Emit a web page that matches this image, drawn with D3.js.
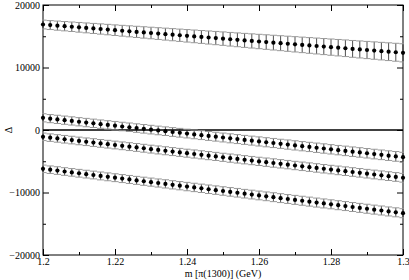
<!DOCTYPE html>
<html>
<head>
<meta charset="utf-8">
<script src="https://cdn.jsdelivr.net/npm/d3@7"></script>
<style>
  body { margin: 0; background: #fff; }
  svg text { font-family: "Liberation Serif", "DejaVu Serif", serif; font-size: 10px; fill: #000; }
  .axis path { display: none; }
  .axis line { stroke: #000; }
</style>
</head>
<body>
<div id="chart"></div>
<script>
// x values, m [pi(1300)] in GeV
var mass = [1.200,1.202,1.204,1.206,1.208,1.210,1.212,1.214,1.216,1.218,
  1.220,1.222,1.224,1.226,1.228,1.230,1.232,1.234,1.236,1.238,
  1.240,1.242,1.244,1.246,1.248,1.250,1.252,1.254,1.256,1.258,
  1.260,1.262,1.264,1.266,1.268,1.270,1.272,1.274,1.276,1.278,
  1.280,1.282,1.284,1.286,1.288,1.290,1.292,1.294,1.296,1.298,1.300];

var delta1 = [16880,16790,16700,16610,16520,16430,16340,16250,16160,16070,
  15970,15880,15790,15700,15610,15520,15430,15340,15250,15160,
  15070,14980,14890,14800,14710,14620,14520,14430,14340,14250,
  14160,14070,13980,13890,13800,13710,13620,13530,13440,13350,
  13260,13170,13080,12980,12890,12800,12710,12620,12530,12440,12350];
var err1 = [700,715,730,745,760,775,790,805,820,835,
  850,865,880,895,910,925,940,955,970,985,
  1000,1015,1030,1045,1060,1075,1090,1105,1120,1135,
  1150,1165,1180,1195,1210,1225,1240,1255,1270,1285,
  1300,1315,1330,1345,1360,1375,1390,1405,1420,1435,1450];

var delta2 = [1950,1820,1700,1570,1450,1320,1190,1070,940,820,
  690,560,440,310,190,60,-70,-190,-320,-440,
  -570,-700,-820,-950,-1070,-1200,-1330,-1450,-1580,-1700,
  -1830,-1960,-2080,-2210,-2330,-2460,-2590,-2710,-2840,-2960,
  -3090,-3220,-3340,-3470,-3590,-3720,-3850,-3970,-4100,-4220,-4350];
var err2 = [650,650,660,660,660,660,670,670,670,670,
  680,680,680,680,690,690,690,690,700,700,
  700,700,710,710,710,710,720,720,720,720,
  730,730,730,730,740,740,740,740,750,750,
  750,750,760,760,760,760,770,770,770,780,780];

var delta3 = [-1090,-1220,-1350,-1480,-1610,-1750,-1880,-2010,-2140,-2270,
  -2400,-2530,-2660,-2790,-2920,-3060,-3190,-3320,-3450,-3580,
  -3710,-3840,-3970,-4100,-4230,-4370,-4500,-4630,-4760,-4890,
  -5020,-5150,-5280,-5410,-5540,-5680,-5810,-5940,-6070,-6200,
  -6330,-6460,-6590,-6720,-6850,-6990,-7120,-7250,-7380,-7510,-7640];
var err3 = [600,600,600,610,610,610,610,620,620,620,
  620,620,630,630,630,630,640,640,640,640,
  640,650,650,650,650,650,660,660,660,660,
  660,670,670,670,670,670,680,680,680,680,
  680,690,690,690,690,690,700,700,700,700,700];

var delta4 = [-6210,-6350,-6490,-6640,-6780,-6920,-7060,-7200,-7350,-7490,
  -7630,-7770,-7910,-8060,-8200,-8340,-8480,-8620,-8770,-8910,
  -9050,-9190,-9330,-9480,-9620,-9760,-9900,-10040,-10190,-10330,
  -10470,-10610,-10750,-10900,-11040,-11180,-11320,-11460,-11610,-11750,
  -11890,-12030,-12170,-12320,-12460,-12600,-12740,-12880,-13030,-13170,-13310];
var err4 = [600,600,610,610,610,620,620,620,630,630,
  630,640,640,640,650,650,650,660,660,660,
  670,670,670,680,680,680,690,690,690,700,
  700,700,710,710,710,720,720,720,720,720,
  720,720,720,720,720,720,720,720,720,720,720];

var xMajor = [1.2, 1.22, 1.24, 1.26, 1.28, 1.3];
var xMinor = [1.21, 1.23, 1.25, 1.27, 1.29];
var yMajor = [-20000, -10000, 0, 10000, 20000];
var yMinor = [-15000, -5000, 5000, 15000];

var series = [
  { v: delta1, e: err1 },
  { v: delta2, e: err2 },
  { v: delta3, e: err3 },
  { v: delta4, e: err4 }
];

// set the dimensions and margins of the graph
var margin = { top: 5, right: 6, bottom: 25, left: 43 },
  width = 409 - margin.left - margin.right,
  height = 280 - margin.top - margin.bottom;

var x = d3.scaleLinear().domain([1.2, 1.3]).range([0, width]);
var y = d3.scaleLinear().domain([-20000, 20000]).range([height, 0]);

var svg = d3.select("#chart").append("svg")
  .attr("width", 409)
  .attr("height", 280)
  .append("g")
  .attr("transform", "translate(" + margin.left + "," + margin.top + ")");

// axes, ticks pointing inward
svg.append("g").attr("class", "axis")
  .attr("transform", "translate(0," + height + ")")
  .call(d3.axisBottom(x).tickValues(xMajor).tickSize(-6).tickPadding(3)
    .tickFormat(function (d) { return d3.format("")(+d.toFixed(2)); }));
svg.append("g").attr("class", "axis")
  .attr("transform", "translate(0," + height + ")")
  .call(d3.axisBottom(x).tickValues(xMinor).tickSize(-3).tickFormat(""));
svg.append("g").attr("class", "axis")
  .call(d3.axisTop(x).tickValues(xMajor).tickSize(-6).tickFormat(""));
svg.append("g").attr("class", "axis")
  .call(d3.axisTop(x).tickValues(xMinor).tickSize(-3).tickFormat(""));

svg.append("g").attr("class", "axis")
  .call(d3.axisLeft(y).tickValues(yMajor).tickSize(-6).tickPadding(3)
    .tickFormat(d3.format("d")));
svg.append("g").attr("class", "axis")
  .call(d3.axisLeft(y).tickValues(yMinor).tickSize(-3).tickFormat(""));
svg.append("g").attr("class", "axis")
  .attr("transform", "translate(" + width + ",0)")
  .call(d3.axisRight(y).tickValues(yMajor).tickSize(-6).tickFormat(""));
svg.append("g").attr("class", "axis")
  .attr("transform", "translate(" + width + ",0)")
  .call(d3.axisRight(y).tickValues(yMinor).tickSize(-3).tickFormat(""));

// frame
svg.append("rect")
  .attr("width", width)
  .attr("height", height)
  .attr("fill", "none")
  .attr("stroke", "#000")
  .attr("stroke-width", 1);

// zero line
svg.append("line")
  .attr("x1", 0).attr("x2", width)
  .attr("y1", y(0)).attr("y2", y(0))
  .attr("stroke", "#000")
  .attr("stroke-width", 1.5);

var half = (x(mass[1]) - x(mass[0])) / 2;

series.forEach(function (s) {
  var pts = mass.map(function (m, i) { return { x: m, v: s.v[i], e: s.e[i] }; });
  var g = svg.append("g");

  // error bars
  g.selectAll(".bar").data(pts).enter().append("line")
    .attr("x1", function (d) { return x(d.x); })
    .attr("x2", function (d) { return x(d.x); })
    .attr("y1", function (d) { return y(d.v + d.e); })
    .attr("y2", function (d) { return y(d.v - d.e); })
    .attr("stroke", "#222")
    .attr("stroke-width", 0.8);

  // caps, wide enough to join into a band
  [1, -1].forEach(function (sign) {
    g.selectAll(".cap").data(pts).enter().append("line")
      .attr("x1", function (d, i) { return i === 0 ? x(d.x) - 1 : x(d.x) - half; })
      .attr("x2", function (d, i) { return i === pts.length - 1 ? x(d.x) + 1 : x(d.x) + half; })
      .attr("y1", function (d) { return y(d.v + sign * d.e); })
      .attr("y2", function (d) { return y(d.v + sign * d.e); })
      .attr("stroke", "#999")
      .attr("stroke-width", 1);
  });

  // points
  g.selectAll(".dot").data(pts).enter().append("circle")
    .attr("cx", function (d) { return x(d.x); })
    .attr("cy", function (d) { return y(d.v); })
    .attr("r", 2.1)
    .attr("fill", "#000");
});

// axis labels
svg.append("text")
  .attr("x", width / 2)
  .attr("y", height + 22)
  .attr("text-anchor", "middle")
  .text("m [\u03c0(1300)] (GeV)");

svg.append("text")
  .attr("transform", "translate(" + (-35) + "," + y(0) + ") rotate(-90)")
  .attr("text-anchor", "middle")
  .attr("dy", "0.35em")
  .text("\u0394");
</script>
</body>
</html>
